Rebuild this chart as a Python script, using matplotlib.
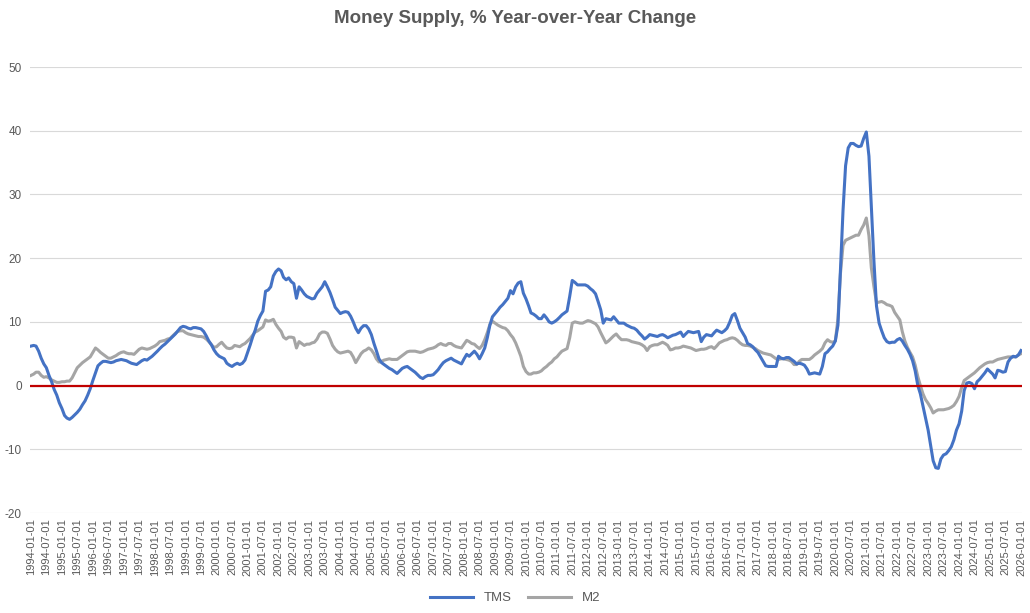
import numpy as np
import pandas as pd
import matplotlib
matplotlib.use("Agg")
import matplotlib.pyplot as plt

# monthly values, one row per year, 1994-01 .. 2026-01
tms = [
    6.2, 6.3, 6.2, 5.4, 4.3, 3.4, 2.8, 1.6, 0.6, -0.6, -1.5, -2.7,        # 1994
    -3.6, -4.7, -5.1, -5.3, -5.0, -4.6, -4.2, -3.7, -3.0, -2.4, -1.5, -0.5,  # 1995
    0.8, 2.0, 3.1, 3.5, 3.8, 3.8, 3.7, 3.6, 3.7, 3.9, 4.0, 4.1,           # 1996
    4.0, 3.9, 3.7, 3.5, 3.4, 3.3, 3.6, 3.9, 4.1, 4.0, 4.3, 4.6,           # 1997
    5.0, 5.4, 5.8, 6.2, 6.5, 6.9, 7.3, 7.7, 8.1, 8.6, 9.1, 9.3,           # 1998
    9.2, 9.0, 8.9, 9.1, 9.1, 9.0, 8.9, 8.5, 7.8, 7.0, 6.4, 5.6,           # 1999
    5.0, 4.6, 4.4, 4.2, 3.5, 3.2, 3.0, 3.3, 3.5, 3.3, 3.5, 4.0,           # 2000
    5.2, 6.4, 7.6, 8.7, 10.1, 11.0, 11.7, 14.8, 15.0, 15.5, 17.2, 17.9,   # 2001
    18.3, 18.0, 17.0, 16.6, 16.9, 16.3, 16.0, 13.7, 15.5, 15.0, 14.4, 14.0,  # 2002
    13.8, 13.6, 13.7, 14.5, 15.0, 15.5, 16.3, 15.5, 14.6, 13.5, 12.3, 11.8,  # 2003
    11.3, 11.5, 11.6, 11.5, 10.9, 10.0, 9.0, 8.3, 9.0, 9.4, 9.4, 8.9,     # 2004
    8.0, 6.6, 5.5, 4.2, 3.6, 3.3, 3.0, 2.7, 2.5, 2.2, 1.9, 2.3,           # 2005
    2.7, 2.9, 3.0, 2.7, 2.4, 2.1, 1.7, 1.3, 1.1, 1.4, 1.6, 1.6,           # 2006
    1.7, 2.1, 2.5, 3.1, 3.6, 3.9, 4.1, 4.3, 4.0, 3.8, 3.6, 3.4,           # 2007
    4.2, 4.9, 4.6, 5.0, 5.4, 4.9, 4.2, 5.0, 5.9, 7.5, 9.5, 10.8,          # 2008
    11.3, 11.8, 12.3, 12.7, 13.2, 13.7, 14.9, 14.4, 15.5, 16.1, 16.3, 14.5,  # 2009
    13.6, 12.5, 11.4, 11.2, 10.9, 10.5, 10.5, 11.1, 10.6, 10.0, 9.8, 10.0,  # 2010
    10.3, 10.7, 11.1, 11.4, 11.7, 14.0, 16.5, 16.2, 15.8, 15.8, 15.8, 15.8,  # 2011
    15.6, 15.2, 14.9, 14.4, 13.2, 11.9, 9.8, 10.5, 10.4, 10.3, 10.8, 10.3,  # 2012
    9.8, 9.8, 9.8, 9.5, 9.3, 9.1, 9.0, 8.7, 8.2, 7.8, 7.3, 7.6,           # 2013
    8.0, 7.9, 7.8, 7.7, 7.9, 8.0, 7.8, 7.5, 7.7, 7.9, 8.0, 8.2,           # 2014
    8.4, 7.7, 8.1, 8.5, 8.4, 8.3, 8.4, 8.5, 6.9, 7.6, 8.0, 7.9,           # 2015
    7.8, 8.3, 8.7, 8.5, 8.3, 8.6, 9.0, 9.9, 11.0, 11.3, 10.2, 9.0,        # 2016
    8.3, 7.6, 6.6, 6.4, 6.1, 5.6, 5.2, 4.5, 3.8, 3.1, 3.0, 3.0,           # 2017
    3.0, 3.0, 4.6, 4.3, 4.2, 4.4, 4.4, 4.1, 3.8, 3.4, 3.5, 3.4,           # 2018
    3.2, 2.6, 1.8, 1.9, 2.0, 1.9, 1.8, 3.0, 5.0, 5.3, 5.8, 6.2,           # 2019
    7.0, 9.5, 18.0, 27.5, 34.5, 37.3, 38.0, 38.0, 37.7, 37.5, 37.6, 38.8,  # 2020
    39.8, 36.0, 28.0, 19.5, 12.5, 9.8, 8.6, 7.5, 6.9, 6.7, 6.8, 6.8,      # 2021
    7.2, 7.4, 7.0, 6.3, 5.7, 4.9, 3.9, 2.3, 0.0, -1.3, -3.2, -5.1,        # 2022
    -7.0, -9.5, -11.8, -12.9, -13.0, -11.5, -10.9, -10.7, -10.2, -9.6, -8.5, -7.0,  # 2023
    -6.0, -4.0, -0.8, 0.4, 0.5, 0.3, -0.5, 0.6, 1.0, 1.5, 2.0, 2.6,       # 2024
    2.2, 1.8, 1.2, 2.4, 2.3, 2.1, 2.2, 3.7, 4.3, 4.6, 4.5, 4.8,           # 2025
    5.5,                                                                  # 2026
]

m2 = [
    1.6, 1.8, 2.1, 2.1, 1.6, 1.3, 1.4, 1.2, 0.9, 0.7, 0.5, 0.5,           # 1994
    0.6, 0.6, 0.7, 0.7, 1.2, 2.0, 2.8, 3.2, 3.6, 3.9, 4.2, 4.5,           # 1995
    5.2, 5.9, 5.6, 5.2, 4.9, 4.6, 4.3, 4.3, 4.5, 4.7, 5.0, 5.2,           # 1996
    5.3, 5.1, 5.0, 5.0, 4.9, 5.3, 5.7, 5.9, 5.8, 5.7, 5.8, 6.0,           # 1997
    6.2, 6.5, 6.9, 7.0, 7.1, 7.3, 7.4, 7.8, 8.2, 8.5, 8.6, 8.6,           # 1998
    8.3, 8.1, 8.0, 7.9, 7.8, 7.7, 7.7, 7.6, 7.3, 6.9, 6.4, 6.0,           # 1999
    6.1, 6.5, 6.8, 6.3, 5.9, 5.8, 5.9, 6.3, 6.2, 6.1, 6.4, 6.6,           # 2000
    7.0, 7.4, 7.9, 8.4, 8.6, 8.9, 9.2, 10.3, 10.1, 10.2, 10.4, 9.6,       # 2001
    9.0, 8.5, 7.6, 7.3, 7.6, 7.6, 7.5, 5.9, 6.9, 6.6, 6.3, 6.5,           # 2002
    6.5, 6.7, 6.8, 7.3, 8.1, 8.4, 8.4, 8.2, 7.3, 6.3, 5.7, 5.3,           # 2003
    5.1, 5.2, 5.3, 5.4, 5.2, 4.5, 3.6, 4.3, 5.0, 5.4, 5.6, 5.9,           # 2004
    5.6, 5.0, 4.2, 3.7, 3.8, 4.0, 4.1, 4.2, 4.1, 4.1, 4.1, 4.4,           # 2005
    4.7, 5.0, 5.3, 5.4, 5.4, 5.4, 5.3, 5.2, 5.3, 5.5, 5.7, 5.8,           # 2006
    5.9, 6.1, 6.4, 6.6, 6.4, 6.3, 6.6, 6.6, 6.3, 6.1, 6.0, 5.9,           # 2007
    6.5, 7.1, 6.9, 6.6, 6.5, 6.1, 5.8, 6.3, 7.2, 8.3, 9.6, 10.1,          # 2008
    9.8, 9.5, 9.3, 9.1, 9.0, 8.6, 8.0, 7.5, 6.7, 5.7, 4.6, 3.0,           # 2009
    2.2, 1.8, 1.8, 2.0, 2.0, 2.1, 2.3, 2.7, 3.0, 3.4, 3.7, 4.2,           # 2010
    4.5, 5.0, 5.4, 5.6, 5.8, 7.5, 9.8, 10.0, 9.9, 9.8, 9.8, 10.0,         # 2011
    10.2, 10.1, 9.9, 9.7, 9.2, 8.3, 7.5, 6.7, 7.0, 7.4, 7.8, 8.1,         # 2012
    7.6, 7.2, 7.2, 7.2, 7.1, 6.9, 6.8, 6.7, 6.6, 6.4, 6.1, 5.5,           # 2013
    6.1, 6.3, 6.4, 6.4, 6.6, 6.8, 6.6, 6.3, 5.6, 5.7, 5.9, 5.9,           # 2014
    6.0, 6.2, 6.1, 6.0, 5.9, 5.7, 5.5, 5.6, 5.7, 5.7, 5.8, 6.0,           # 2015
    6.1, 5.8, 6.2, 6.7, 6.9, 7.1, 7.2, 7.4, 7.5, 7.4, 7.1, 6.7,           # 2016
    6.4, 6.3, 6.3, 6.2, 6.0, 5.8, 5.5, 5.3, 5.1, 5.0, 4.9, 4.8,           # 2017
    4.5, 4.2, 4.1, 4.2, 4.2, 4.1, 4.0, 3.8, 3.3, 3.3, 3.8, 4.1,           # 2018
    4.1, 4.1, 4.1, 4.4, 4.8, 5.1, 5.4, 5.8, 6.7, 7.2, 6.9, 6.8,           # 2019
    7.0, 10.5, 17.5, 22.0, 22.8, 23.0, 23.2, 23.4, 23.6, 23.6, 24.5, 25.2,  # 2020
    26.3, 23.5, 18.5, 15.5, 13.0, 13.1, 13.2, 13.0, 12.7, 12.6, 12.4, 11.5,  # 2021
    10.9, 10.3, 8.5, 7.0, 6.0, 5.2, 4.5, 3.2, 1.4, 0.0, -1.3, -2.2,       # 2022
    -2.8, -3.5, -4.3, -4.0, -3.8, -3.8, -3.8, -3.7, -3.6, -3.4, -3.1, -2.5,  # 2023
    -1.7, -0.3, 0.8, 1.1, 1.4, 1.7, 2.0, 2.4, 2.8, 3.1, 3.4, 3.6,         # 2024
    3.7, 3.7, 3.9, 4.1, 4.2, 4.3, 4.4, 4.5, 4.5, 4.5, 4.5, 4.8,           # 2025
    5.0,                                                                  # 2026
]

dates = pd.date_range("1994-01-01", "2026-01-01", freq="MS")
tick_dates = dates[::6]
tick_labels = [d.strftime("%Y-%m-%d") for d in tick_dates]

text_color = "#595959"
plt.rcParams["font.family"] = ["Liberation Sans", "DejaVu Sans"]
plt.rcParams["axes.unicode_minus"] = False

fig = plt.figure(figsize=(10.3, 6.13), dpi=100)
ax = fig.add_axes([30 / 1030, 1 - 513 / 613, 992 / 1030, 446 / 613])

ax.plot(dates, tms, color="#4472C4", lw=2.2, label="TMS", zorder=3)
ax.plot(dates, m2, color="#A5A5A5", lw=2.2, label="M2", zorder=2)
ax.axhline(0, color="#C00000", lw=1.6, zorder=4)

ax.set_ylim(-20, 50)
ax.set_yticks(np.arange(-20, 51, 10))
ax.set_xlim(dates[0] - pd.Timedelta(days=12), dates[-1] + pd.Timedelta(days=12))
ax.set_xticks(tick_dates)
ax.set_xticklabels(tick_labels, rotation=90)

ax.grid(axis="y", color="#D9D9D9", lw=0.8)
ax.set_axisbelow(True)
for s in ax.spines.values():
    s.set_visible(False)
ax.tick_params(length=0, colors=text_color, labelsize=8)
ax.tick_params(axis="y", pad=6, labelsize=8.5)
ax.tick_params(axis="x", pad=4)

fig.suptitle("Money Supply, % Year-over-Year Change", y=0.983, fontsize=13.5,
             fontweight="bold", color=text_color)
fig.legend(loc="lower center", ncol=2, frameon=False, fontsize=9.5,
           bbox_to_anchor=(0.5, -0.005), handlelength=3.3, columnspacing=1.2,
           labelcolor=text_color)

fig.savefig("out.png", dpi=100)
